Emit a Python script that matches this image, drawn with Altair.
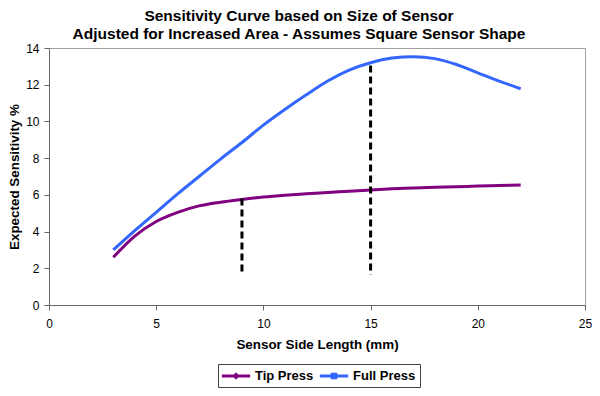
import altair as alt
import pandas as pd

# ---- data ----
x_vals = list(range(3, 23))
tip_press = [2.6, 3.75, 4.55, 5.05, 5.4, 5.6, 5.75, 5.88, 5.98, 6.06,
             6.13, 6.2, 6.27, 6.33, 6.37, 6.41, 6.44, 6.48, 6.51, 6.54]
full_press = [3.0, 4.05, 5.05, 6.05, 7.0, 7.95, 8.85, 9.8, 10.65, 11.45,
              12.2, 12.8, 13.2, 13.45, 13.53, 13.42, 13.1, 12.65, 12.2, 11.78]
series_names = ["Tip Press", "Full Press"]
series_colors = ["#800080", "#3366FF"]

marker_x = [9, 15]
marker_top = [5.8, 13.05]
marker_bottom = [1.65, 1.65]

x_ticks = [0, 5, 10, 15, 20, 25]
y_ticks = [0, 2, 4, 6, 8, 10, 12, 14]

title_lines = ["Sensitivity Curve based on Size of Sensor",
               "Adjusted for Increased Area - Assumes Square Sensor Shape"]

# legend symbols: line with diamond / line with square
diamond_path = ("M-1.77,-0.19H1.77V0.19H-1.77Z"
                "M0,-0.46L0.46,0L0,0.46L-0.46,0Z")
square_path = ("M-1.77,-0.19H1.77V0.19H-1.77Z"
               "M-0.4,-0.4H0.4V0.4H-0.4Z")

# ---- tables ----
df_lines = pd.DataFrame({
    "x": x_vals * 2,
    "y": tip_press + full_press,
    "series": [series_names[0]] * len(x_vals) + [series_names[1]] * len(x_vals),
})
df_rules = pd.DataFrame({"x": marker_x, "top": marker_top, "bottom": marker_bottom})

FONT = "Liberation Sans"

xscale = alt.Scale(domain=[0, 25], nice=False, zero=False)
yscale = alt.Scale(domain=[0, 14], nice=False)

x_axis = alt.Axis(values=x_ticks, title="Sensor Side Length (mm)", grid=False,
                  tickSize=5, labelPadding=8, titlePadding=8, labelFlush=False,
                  labelOverlap=False,
                  labelFontSize=12, titleFontSize=13.4, labelFont=FONT, titleFont=FONT,
                  titleFontWeight="bold", labelColor="#000", titleColor="#000",
                  domainColor="#666", tickColor="#666")
y_axis = alt.Axis(values=y_ticks, title="Expected Sensitivity %", grid=False,
                  tickSize=5, labelPadding=5, titlePadding=4, labelFlush=False,
                  labelOverlap=False,
                  labelFontSize=12, titleFontSize=13.4, labelFont=FONT, titleFont=FONT,
                  titleFontWeight="bold", labelColor="#000", titleColor="#000",
                  domainColor="#666", tickColor="#666")

X = alt.X("x:Q", scale=xscale, axis=x_axis)
Y = alt.Y("y:Q", scale=yscale, axis=y_axis)

line_layers = []
for name, col in zip(series_names, series_colors):
    line_layers.append(
        alt.Chart(df_lines)
        .transform_filter(alt.datum.series == name)
        .mark_line(strokeWidth=3, interpolate="monotone", color=col)
        .encode(x=X, y=Y)
    )

legend = alt.Legend(
    orient="none", legendX=169, legendY=316, direction="horizontal", title=None,
    labelFont=FONT, labelFontSize=13, labelFontWeight="bold", labelColor="#000",
    symbolSize=256, symbolStrokeWidth=0, symbolOffset=6, labelOffset=11,
    columnPadding=5, padding=4, strokeColor="#444",
)

legend_points = alt.Chart(df_lines).mark_point(filled=True, size=0, opacity=1).encode(
    x=X,
    y=Y,
    color=alt.Color("series:N", scale=alt.Scale(domain=series_names, range=series_colors),
                    legend=legend),
    shape=alt.Shape("series:N",
                    scale=alt.Scale(domain=series_names, range=[diamond_path, square_path]),
                    legend=legend),
)

rules = alt.Chart(df_rules).mark_rule(color="#000", strokeWidth=3, strokeDash=[7, 4]).encode(
    x=X,
    y=alt.Y("top:Q", scale=yscale, axis=y_axis),
    y2="bottom:Q",
)

chart = alt.layer(*line_layers, rules, legend_points).properties(
    width=536, height=257,
    autosize=alt.AutoSizeParams(type="none"),
    padding={"left": 41, "top": 40, "right": 7, "bottom": 83},
    title=alt.Title(title_lines, fontSize=15.5, font=FONT, fontWeight="bold",
                    color="#000", anchor="middle", lineHeight=18, offset=-0.5, dx=-18),
).configure_view(stroke="#A0A0A0", strokeWidth=1)

chart.save("out.html", embed_options={"renderer": "svg", "actions": False})
